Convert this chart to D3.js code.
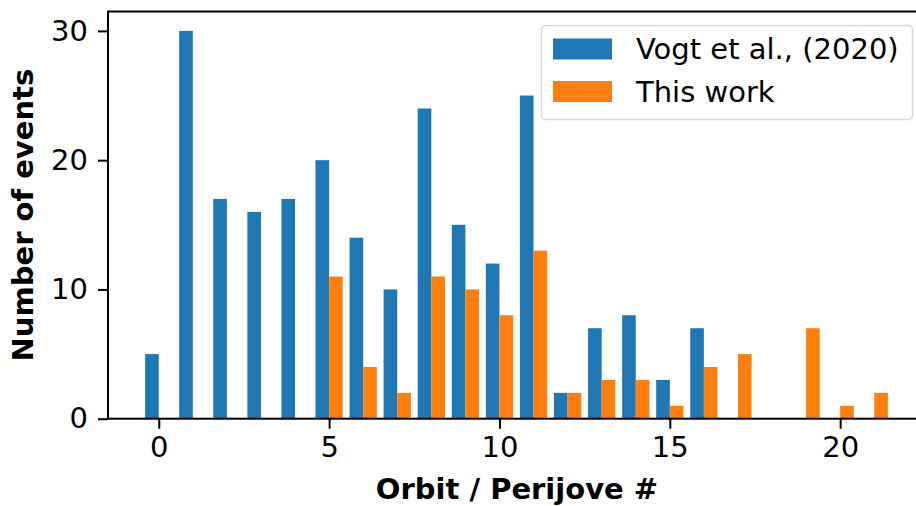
<!DOCTYPE html>
<html>
<head>
<meta charset="utf-8">
<script src="https://cdn.jsdelivr.net/npm/d3@7"></script>
<style>
  body { margin: 0; background: #fff; }
  text { font-family: "DejaVu Sans", sans-serif; }
</style>
</head>
<body>
<div class="chart"></div>
<script>
'use strict';

// orbit / perijove numbers and event counts per orbit
var orbits = d3.range(0, 22);
var vogtCounts = [5, 30, 17, 16, 17, 20, 14, 10, 24, 15, 12, 25, 2, 7, 8, 3, 7, 0, 0, 0, 0, 0];
var thisWorkCounts = [0, 0, 0, 0, 0, 11, 4, 2, 11, 10, 8, 13, 2, 3, 3, 1, 4, 5, 0, 7, 1, 2];
var seriesNames = ["Vogt et al., (2020)", "This work"];
var xTicks = [0, 5, 10, 15, 20];
var yTicks = [0, 10, 20, 30];

var width = 916,
    height = 506;
var margin = {left: 108, top: 11.5, right: 925, bottom: 418.7};
var colors = ["#1f77b4", "#ff7f0e"];
var fontSize = "29px";

var x = d3.scaleLinear()
    .domain([-1.49, 22.49])
    .range([margin.left, margin.right]);
var y = d3.scaleLinear()
    .domain([0, 31.5])
    .range([margin.bottom, margin.top]);

var svg = d3.select(".chart").append("svg")
    .attr("width", width)
    .attr("height", height);

var series = [vogtCounts, thisWorkCounts];
var barW = 0.4;

series.forEach(function (counts, i) {
  svg.append("g")
    .selectAll("rect")
    .data(orbits.filter(function (o) { return counts[o] > 0; }))
    .enter().append("rect")
    .attr("x", function (o) { return x(o - barW + i * barW); })
    .attr("width", x(barW) - x(0))
    .attr("y", function (o) { return y(counts[o]); })
    .attr("height", function (o) { return y(0) - y(counts[o]); })
    .attr("fill", colors[i]);
});

// axes
var xAxis = svg.append("g")
    .attr("transform", "translate(0," + y(0) + ")")
    .call(d3.axisBottom(x).tickValues(xTicks).tickSize(10).tickPadding(8));
var yAxis = svg.append("g")
    .attr("transform", "translate(" + x.range()[0] + ",0)")
    .call(d3.axisLeft(y).tickValues(yTicks).tickSize(10).tickPadding(10));

[xAxis, yAxis].forEach(function (ax) {
  ax.attr("font-family", null).attr("font-size", null);
  ax.select(".domain").remove();
  ax.selectAll("line").attr("stroke", "#000").attr("stroke-width", 2);
  ax.selectAll("text").attr("fill", "#000").style("font-size", fontSize);
});

// spines
svg.append("rect")
    .attr("x", margin.left)
    .attr("y", margin.top)
    .attr("width", margin.right - margin.left)
    .attr("height", margin.bottom - margin.top)
    .attr("fill", "none")
    .attr("stroke", "#000")
    .attr("stroke-width", 2);

// axis labels
svg.append("text")
    .attr("x", 517)
    .attr("y", 499)
    .attr("text-anchor", "middle")
    .style("font-size", fontSize)
    .style("font-weight", "bold")
    .text("Orbit / Perijove #");
svg.append("text")
    .attr("transform", "translate(33," + (margin.top + margin.bottom) / 2 + ")rotate(-90)")
    .attr("text-anchor", "middle")
    .style("font-size", fontSize)
    .style("font-weight", "bold")
    .text("Number of events");

// legend
var legend = svg.append("g");
legend.append("rect")
    .attr("x", 541.5)
    .attr("y", 25.5)
    .attr("width", 371)
    .attr("height", 94)
    .attr("rx", 4)
    .attr("fill", "#fff")
    .attr("fill-opacity", 0.8)
    .attr("stroke", "#d9d9d9")
    .attr("stroke-width", 1.5);
seriesNames.forEach(function (name, i) {
  legend.append("rect")
    .attr("x", 553)
    .attr("y", 38.5 + i * 42.5)
    .attr("width", 59)
    .attr("height", 21)
    .attr("fill", colors[i]);
  legend.append("text")
    .attr("x", 636)
    .attr("y", 49 + i * 42.5)
    .attr("dy", "0.35em")
    .style("font-size", fontSize)
    .text(name);
});
</script>
</body>
</html>
